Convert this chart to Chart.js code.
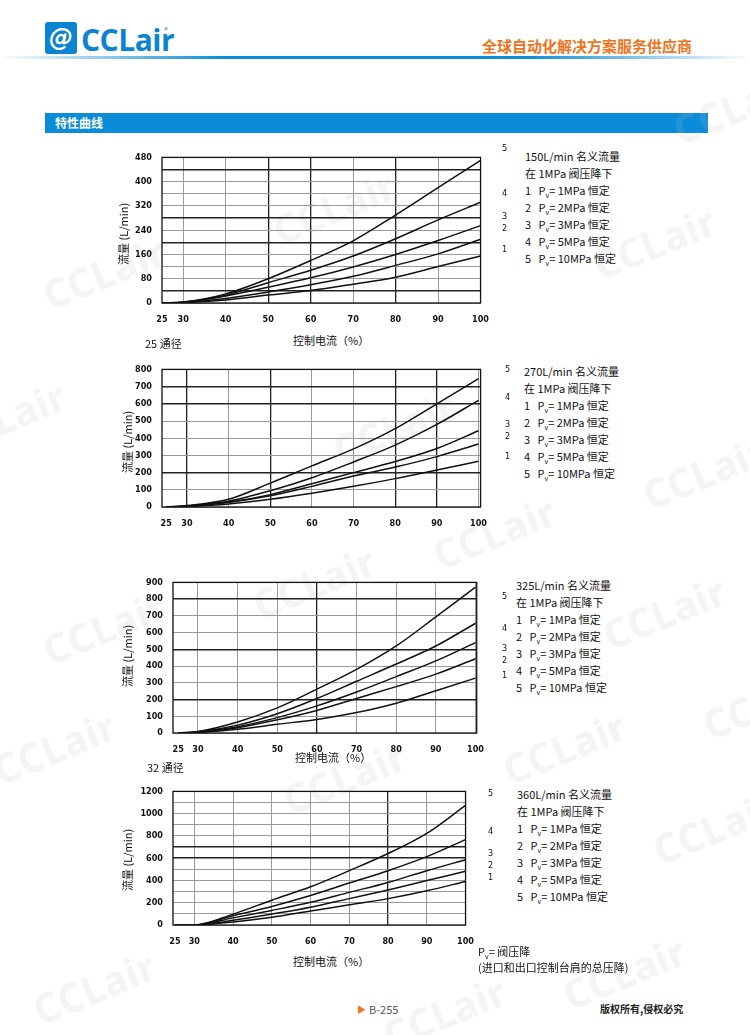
<!DOCTYPE html>
<html>
<head>
<meta charset="utf-8">
<script src="https://cdn.jsdelivr.net/npm/chart.js@4/dist/chart.umd.min.js"></script>
<style>
body{margin:0;width:750px;height:1035px;position:relative;background:#fff;overflow:hidden;
  font-family:"Noto Sans CJK SC","Noto Sans",sans-serif;color:#111}
.abs{position:absolute;white-space:nowrap}
canvas{position:absolute}
.wm{position:absolute;font:bold 40px "Open Sans",sans-serif;color:rgba(190,190,190,0.18);transform:rotate(-22deg);white-space:nowrap}
.lg{position:absolute;font-size:11px;line-height:17px;white-space:nowrap}
.lg sub{font-size:7px;vertical-align:baseline;position:relative;top:3px;line-height:0}
.num{position:absolute;font:9px "Liberation Sans Narrow","DejaVu Sans Condensed",sans-serif}
.ytitle{position:absolute;font-size:11px;transform:rotate(-90deg);transform-origin:center;white-space:nowrap}
.xtitle{position:absolute;font-size:11px;white-space:nowrap}
</style>
</head>
<body>

<!-- header -->
<div class="abs" style="left:45px;top:22px;width:32px;height:32px;background:#0a84d0;border-radius:3px;color:#fff;font:italic bold 24px 'DejaVu Sans';text-align:center;line-height:32px">@</div>
<div class="abs" style="left:81px;top:19px;font:bold 30px 'Open Sans',sans-serif;color:#0a84d0;letter-spacing:-0.5px">CCLair</div>
<div class="abs" style="left:164px;top:24px;font-size:8px;color:#0a84d0">®</div>
<div class="abs" style="right:58px;top:35px;font-size:15px;font-weight:bold;color:#ee7420">全球自动化解决方案服务供应商</div>
<div class="abs" style="left:0;top:56px;width:750px;height:3px;background:linear-gradient(90deg,rgba(10,140,216,0),#0a8cd8 30%,#0a8cd8 70%,rgba(10,140,216,0))"></div>
<div class="abs" style="left:45px;top:113px;width:663px;height:20px;background:#0a8cd8"></div>
<div class="abs" style="left:55px;top:114px;font-size:12px;font-weight:bold;color:#fff;line-height:18px">特性曲线</div>

<!-- watermarks -->
<div class="wm" style="left:40px;top:245px">CCLair</div>
<div class="wm" style="left:270px;top:180px">CCLair</div>
<div class="wm" style="left:590px;top:215px">CCLair</div>
<div class="wm" style="left:670px;top:80px">CCLair</div>
<div class="wm" style="left:-60px;top:390px">CCLair</div>
<div class="wm" style="left:330px;top:400px">CCLair</div>
<div class="wm" style="left:640px;top:445px">CCLair</div>
<div class="wm" style="left:430px;top:505px">CCLair</div>
<div class="wm" style="left:40px;top:600px">CCLair</div>
<div class="wm" style="left:250px;top:555px">CCLair</div>
<div class="wm" style="left:600px;top:585px">CCLair</div>
<div class="wm" style="left:700px;top:675px">CCLair</div>
<div class="wm" style="left:-10px;top:720px">CCLair</div>
<div class="wm" style="left:500px;top:720px">CCLair</div>
<div class="wm" style="left:280px;top:750px">CCLair</div>
<div class="wm" style="left:650px;top:800px">CCLair</div>
<div class="wm" style="left:30px;top:960px">CCLair</div>
<div class="wm" style="left:380px;top:985px">CCLair</div>
<div class="wm" style="left:560px;top:945px">CCLair</div>

<canvas id="c1"></canvas>
<canvas id="c2"></canvas>
<canvas id="c3"></canvas>
<canvas id="c4"></canvas>

<!-- axis titles -->
<div class="ytitle" style="left:88px;top:222px;width:70px">流量 (L/min)</div>
<div class="xtitle" style="left:293px;top:332px">控制电流（%）</div>
<div class="xtitle" style="left:145px;top:335px">25 通径</div>
<div class="ytitle" style="left:92px;top:430px;width:70px">流量 (L/min)</div>
<div class="ytitle" style="left:92px;top:644px;width:70px">流量 (L/min)</div>
<div class="xtitle" style="left:295px;top:749px">控制电流（%）</div>
<div class="xtitle" style="left:147px;top:759px">32 通径</div>
<div class="ytitle" style="left:92px;top:848px;width:70px">流量 (L/min)</div>
<div class="xtitle" style="left:293px;top:953px">控制电流（%）</div>

<div class="lg" style="left:478px;top:943px;line-height:16px">P<sub>v</sub>= 阀压降<br>(进口和出口控制台肩的总压降)</div>

<!-- footer -->
<div class="abs" style="left:357px;top:1003px;font-size:9px;color:#ee7420">▶</div>
<div class="abs" style="left:369px;top:1001px;font-size:11px;color:#555">B-255</div>
<div class="abs" style="left:600px;top:1001px;font-size:10px;font-weight:bold;color:#222">版权所有,侵权必究</div>

<script>
// x axis: control current (%)
const currentPct = [25, 30, 40, 50, 60, 70, 80, 90, 100];
const xTickValues = [25, 30, 40, 50, 60, 70, 80, 90, 100];
const pressureLabels = ["1MPa", "2MPa", "3MPa", "5MPa", "10MPa"];
const nominalFlows = ["150L/min", "270L/min", "325L/min", "360L/min"];

// 150 L/min valve, curves 1..5
const flowA1 = [0, 1, 10, 26, 41, 62, 85, 120, 155];
const flowA2 = [0, 2, 15, 36, 60, 88, 124, 162, 210];
const flowA3 = [0, 2, 23, 52, 83, 119, 160, 206, 255];
const flowA4 = [0, 3, 26, 67, 108, 155, 212, 274, 332];
const flowA5 = [0, 3, 30, 80, 140, 205, 290, 380, 470];

// 270 L/min valve (25 通径)
const flowB1 = [0, 3, 18, 45, 80, 120, 165, 215, 266];
const flowB2 = [0, 5, 27, 65, 120, 180, 232, 293, 366];
const flowB3 = [0, 5, 28, 72, 135, 200, 264, 340, 443];
const flowB4 = [0, 6, 34, 94, 170, 262, 360, 480, 620];
const flowB5 = [0, 9, 45, 139, 239, 338, 456, 600, 746];

// 325 L/min valve
const flowC1 = [0, 3, 22, 52, 81, 122, 178, 253, 328];
const flowC2 = [0, 5, 32, 79, 135, 206, 277, 352, 444];
const flowC3 = [0, 6, 38, 92, 162, 245, 337, 431, 540];
const flowC4 = [0, 7, 47, 115, 206, 309, 412, 520, 656];
const flowC5 = [0, 9, 66, 150, 262, 380, 520, 694, 872];

// 360 L/min valve (32 通径)
const flowD1 = [0, 0, 28, 70, 126, 181, 237, 307, 391];
const flowD2 = [0, 0, 42, 98, 159, 237, 315, 399, 483];
const flowD3 = [0, 0, 64, 131, 204, 293, 382, 488, 586];
const flowD4 = [0, 0, 84, 167, 265, 377, 488, 614, 767];
const flowD5 = [0, 0, 98, 223, 343, 488, 642, 823, 1074];

const tickFont = { family: '"Liberation Sans Narrow","DejaVu Sans Condensed",sans-serif', size: 9, weight: "bold" };

// box frame around the plot
const framePlugin = {
    id: "frame",
    afterDraw(chart) {
        const a = chart.chartArea, c = chart.ctx;
        c.save();
        c.strokeStyle = "#111";
        c.lineWidth = 1.3;
        c.strokeRect(a.left, a.top, a.right - a.left, a.bottom - a.top);
        c.restore();
    }
};

function makeChart(id, box, xMin, xMax, yMax, yStep, yLabelStep, darkX, darkY, series) {
    const padL = 50, padT = 6, padR = 8, padB = 26;
    const canvas = document.getElementById(id);
    canvas.width = box.right - box.left + padL + padR;
    canvas.height = box.bottom - box.top + padT + padB;
    canvas.style.left = (box.left - padL) + "px";
    canvas.style.top = (box.top - padT) + "px";

    new Chart(canvas.getContext("2d"), {
        type: "line",
        data: {
            labels: currentPct,
            datasets: series.map((s) => ({
                data: currentPct.map((x, i) => ({ x: x, y: s[i] })),
                borderColor: "#111",
                borderWidth: 1.5,
                pointRadius: 0,
                fill: false,
                cubicInterpolationMode: "monotone"
            }))
        },
        options: {
            responsive: false,
            animation: false,
            devicePixelRatio: 1,
            layout: { padding: { left: 0, top: padT, right: padR, bottom: 0 } },
            plugins: { legend: { display: false }, tooltip: { enabled: false } },
            scales: {
                x: {
                    type: "linear",
                    min: xMin,
                    max: xMax,
                    afterBuildTicks: (s) => { s.ticks = xTickValues.map((v) => ({ value: v })); },
                    afterFit: (s) => { s.height = padB; },
                    grid: {
                        drawTicks: false,
                        color: (ctx) => ctx.tick.value === 25 ? "rgba(0,0,0,0)" :
                            (darkX.includes(ctx.tick.value) ? "#222" : "#9a9a9a"),
                        lineWidth: (ctx) => darkX.includes(ctx.tick.value) ? 1.3 : 1
                    },
                    border: { display: false },
                    ticks: { autoSkip: false, maxRotation: 0, padding: 11, color: "#111", font: tickFont,
                        callback: (v) => v }
                },
                y: {
                    min: 0,
                    max: yMax,
                    afterFit: (s) => { s.width = padL; },
                    grid: {
                        drawTicks: false,
                        color: (ctx) => darkY.includes(ctx.tick.value) ? "#222" : "#9a9a9a",
                        lineWidth: (ctx) => darkY.includes(ctx.tick.value) ? 1.6 : 1
                    },
                    border: { display: false },
                    ticks: { stepSize: yStep, autoSkip: false, padding: 10, color: "#111", font: tickFont,
                        callback: (v) => v % yLabelStep === 0 ? v : "" }
                }
            }
        },
        plugins: [framePlugin]
    });
}

makeChart("c1", { left: 162, top: 148, right: 492, bottom: 303 }, 25, 100, 480, 40, 80,
    [50, 60, 80], [40, 200, 280, 440], [flowA1, flowA2, flowA3, flowA4, flowA5]);
makeChart("c2", { left: 162, top: 360, right: 490, bottom: 507 }, 24, 100.5, 800, 100, 100,
    [30, 50, 80, 90], [200, 600, 700], [flowB1, flowB2, flowB3, flowB4, flowB5]);
makeChart("c3", { left: 173, top: 573, right: 487, bottom: 733 }, 23.7, 100.3, 900, 100, 100,
    [60], [200, 500, 800], [flowC1, flowC2, flowC3, flowC4, flowC5]);
makeChart("c4", { left: 173, top: 782, right: 477, bottom: 925 }, 24.5, 100, 1200, 100, 200,
    [80], [600, 700], [flowD1, flowD2, flowD3, flowD4, flowD5]);

// curve numbers at the right end of each plot
function curveNumbers(x, ys) {
    ys.forEach((y, i) => {
        const d = document.createElement("div");
        d.className = "num";
        d.style.left = x + "px";
        d.style.top = y + "px";
        d.textContent = String(5 - i);
        document.body.appendChild(d);
    });
}
curveNumbers(502, [143, 188, 211, 223, 244]);
curveNumbers(505, [364, 392, 419, 431, 451]);
curveNumbers(502, [591, 623, 643, 655, 670]);
curveNumbers(488, [788, 826, 848, 860, 872]);

// side legends
function sideLegend(x, y, flow) {
    const d = document.createElement("div");
    d.className = "lg";
    d.style.left = x + "px";
    d.style.top = y + "px";
    let html = flow + " 名义流量<br>在 1MPa 阀压降下";
    pressureLabels.forEach((p, i) => {
        html += "<br>" + (i + 1) + "&nbsp;&nbsp; P<sub>v</sub>= " + p + " 恒定";
    });
    d.innerHTML = html;
    document.body.appendChild(d);
}
sideLegend(525, 148, nominalFlows[0]);
sideLegend(524, 363, nominalFlows[1]);
sideLegend(516, 577, nominalFlows[2]);
sideLegend(517, 786, nominalFlows[3]);
</script>
</body>
</html>
